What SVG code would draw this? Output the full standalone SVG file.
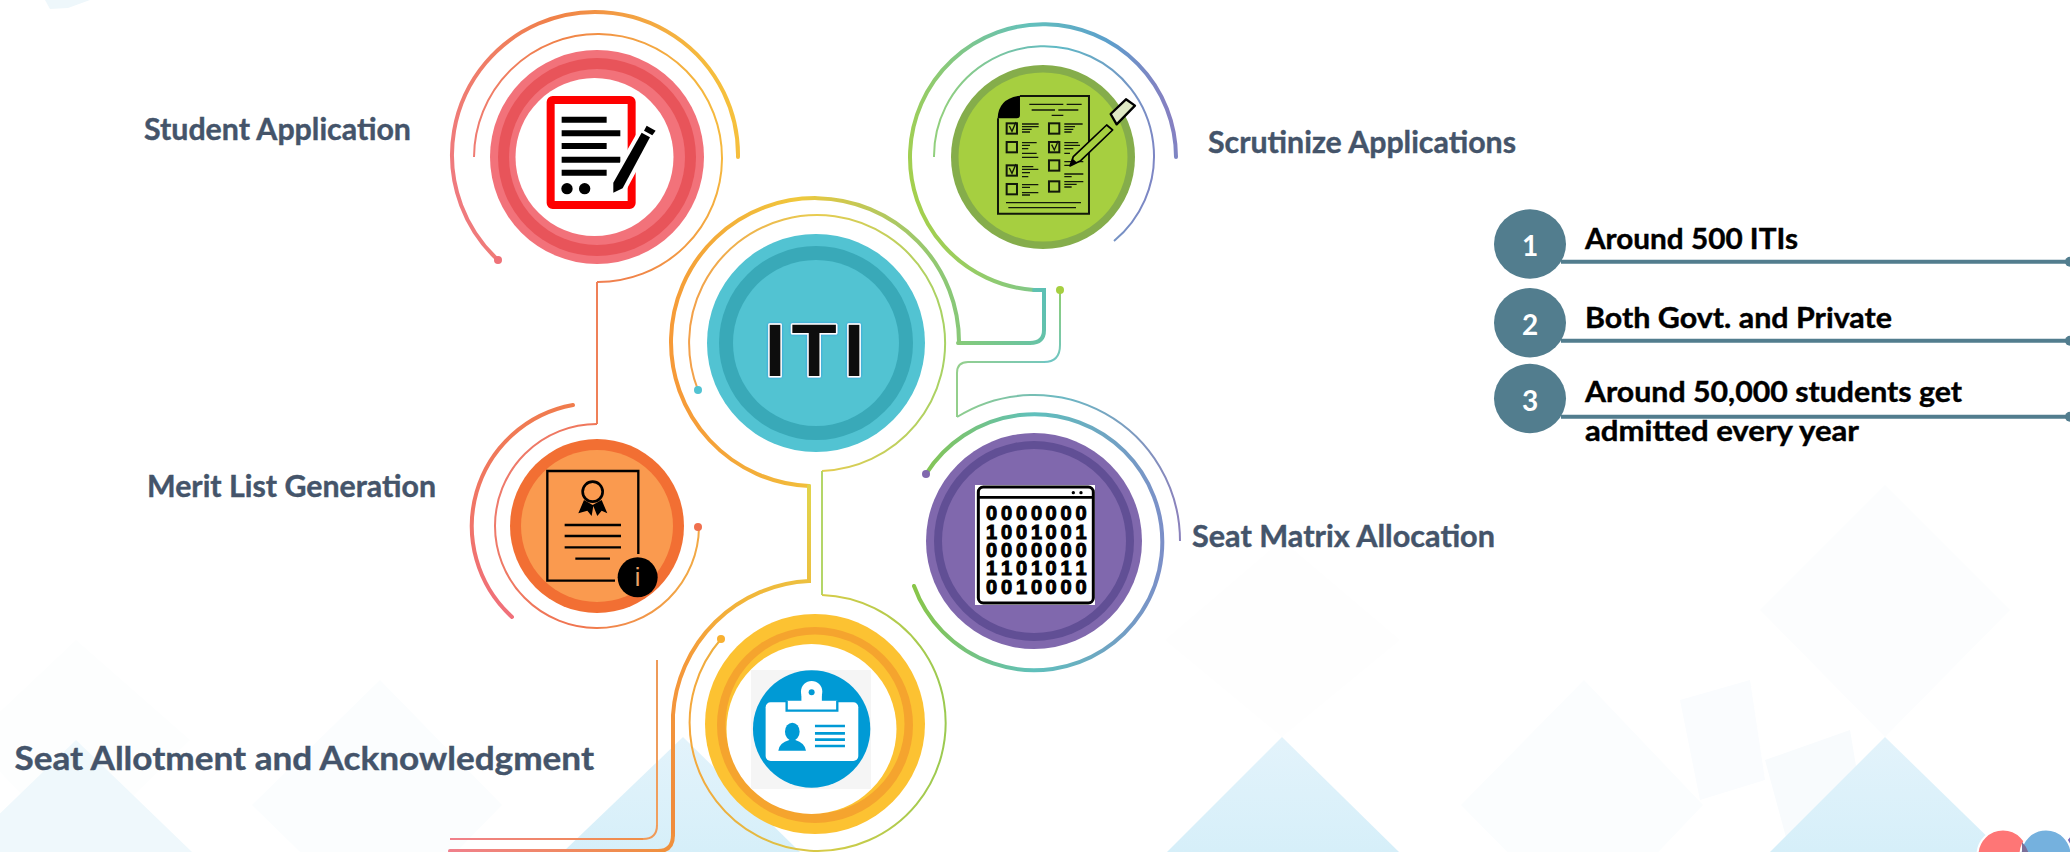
<svg xmlns="http://www.w3.org/2000/svg" width="2070" height="852" viewBox="0 0 2070 852">
<style>
.lbl{font-family:"Lato","Carlito","Open Sans",sans-serif;font-weight:700;fill:#44546a;stroke:#44546a;stroke-width:.4}
.blk{font-family:"Lato","Carlito","Open Sans",sans-serif;font-weight:700;fill:#000;stroke:#000;stroke-width:.4;font-size:29px}
.num{font-family:"Lato","Carlito","Open Sans",sans-serif;font-weight:700;fill:#fff;font-size:28px;text-anchor:middle}
.dig{font-family:"Liberation Sans",Arial,sans-serif;font-weight:700;font-size:60px;fill:#000;stroke:#000;stroke-width:3;text-anchor:middle}
.thin{fill:none;stroke-width:2}
.thick{fill:none;stroke-width:4;stroke-linecap:round}
.k{fill:none;stroke:#000}
.g{fill:none;stroke:#12180a;stroke-width:6}
.rule{stroke:#527d8e;stroke-width:4}
.badge{fill:#527d8e}
</style>
<defs>
<linearGradient id="bgTri" x1="0" y1="0" x2="0" y2="1"><stop offset="0" stop-color="#e3f3fb"/><stop offset="1" stop-color="#d6eff9"/></linearGradient>
<linearGradient id="redArc" gradientUnits="userSpaceOnUse" x1="453" y1="200" x2="738" y2="120"><stop offset="0" stop-color="#ef7a80"/><stop offset=".5" stop-color="#f08148"/><stop offset="1" stop-color="#f6c23c"/></linearGradient>
<linearGradient id="mrtOut" gradientUnits="userSpaceOnUse" x1="573" y1="405" x2="512" y2="617"><stop offset="0" stop-color="#f07c4c"/><stop offset="1" stop-color="#f0707a"/></linearGradient>
<linearGradient id="mrtIn" gradientUnits="userSpaceOnUse" x1="495" y1="500" x2="700" y2="560"><stop offset="0" stop-color="#ee7a6c"/><stop offset=".55" stop-color="#f0744e"/><stop offset="1" stop-color="#f2ac44"/></linearGradient>
<linearGradient id="grnOut" gradientUnits="userSpaceOnUse" x1="911" y1="200" x2="1176" y2="120"><stop offset="0" stop-color="#a6d04a"/><stop offset=".6" stop-color="#62c0bc"/><stop offset=".85" stop-color="#5c9fcc"/><stop offset="1" stop-color="#8a7cc0"/></linearGradient>
<linearGradient id="grnIn" gradientUnits="userSpaceOnUse" x1="933" y1="140" x2="1153" y2="170"><stop offset="0" stop-color="#93d07c"/><stop offset=".5" stop-color="#5fb9c6"/><stop offset="1" stop-color="#7d86c4"/></linearGradient>
<linearGradient id="grnBot" gradientUnits="userSpaceOnUse" x1="958" y1="343" x2="1044" y2="300"><stop offset="0" stop-color="#86cb78"/><stop offset="1" stop-color="#5dc0b4"/></linearGradient>
<linearGradient id="itiOut" gradientUnits="userSpaceOnUse" x1="671" y1="340" x2="960" y2="300"><stop offset="0" stop-color="#f69a38"/><stop offset=".5" stop-color="#f0c83c"/><stop offset="1" stop-color="#84c87a"/></linearGradient>
<linearGradient id="itiIn" gradientUnits="userSpaceOnUse" x1="688" y1="340" x2="944" y2="340"><stop offset="0" stop-color="#f3a04a"/><stop offset=".5" stop-color="#e8cc50"/><stop offset="1" stop-color="#a8d264"/></linearGradient>
<linearGradient id="yelOut" gradientUnits="userSpaceOnUse" x1="808" y1="500" x2="673" y2="800"><stop offset="0" stop-color="#e2d24a"/><stop offset=".35" stop-color="#f2b63a"/><stop offset=".6" stop-color="#f59a3a"/><stop offset="1" stop-color="#f08c3c"/></linearGradient>
<linearGradient id="yelIn" gradientUnits="userSpaceOnUse" x1="690" y1="700" x2="942" y2="700"><stop offset="0" stop-color="#f4a83c"/><stop offset=".55" stop-color="#d4cc48"/><stop offset="1" stop-color="#9cca50"/></linearGradient>
<linearGradient id="botH" gradientUnits="userSpaceOnUse" x1="450" y1="0" x2="660" y2="0"><stop offset="0" stop-color="#f0808c"/><stop offset="1" stop-color="#f09040"/></linearGradient>
<linearGradient id="botV" gradientUnits="userSpaceOnUse" x1="0" y1="660" x2="0" y2="840"><stop offset="0" stop-color="#ee9a58"/><stop offset="1" stop-color="#f0a060"/></linearGradient>
<linearGradient id="purIn" gradientUnits="userSpaceOnUse" x1="905" y1="540" x2="1163" y2="540"><stop offset="0" stop-color="#8cc640"/><stop offset=".5" stop-color="#5fc0bc"/><stop offset="1" stop-color="#7b8fc8"/></linearGradient>
<linearGradient id="purOut" gradientUnits="userSpaceOnUse" x1="957" y1="450" x2="1180" y2="500"><stop offset="0" stop-color="#8ccc90"/><stop offset=".4" stop-color="#6cb8c4"/><stop offset="1" stop-color="#8a82bc"/></linearGradient>
<linearGradient id="dropL" gradientUnits="userSpaceOnUse" x1="0" y1="290" x2="0" y2="362"><stop offset="0" stop-color="#8fce70"/><stop offset="1" stop-color="#70c6c4"/></linearGradient>
<linearGradient id="midH" gradientUnits="userSpaceOnUse" x1="957" y1="0" x2="1060" y2="0"><stop offset="0" stop-color="#94cf8c"/><stop offset="1" stop-color="#70c6c4"/></linearGradient>
<filter id="glow" x="-20%" y="-20%" width="140%" height="140%"><feDropShadow dx="0" dy="0" stdDeviation="1.2" flood-color="#2a8fe8"/></filter>
</defs>

<g id="background">
<rect width="2070" height="852" fill="#fff"/>
<polygon points="45,0 90,0 68,8 50,9" fill="#eef7fb"/>
<polygon points="1885,485 2010,610 1885,737 1760,610" fill="#fcfdfe"/>
<polygon points="1584,680 1703,805 1584,930 1461,805" fill="#fbfdfe"/>
<polygon points="1282,540 1400,640 1282,737 1165,640" fill="#fefefe"/>
<polygon points="380,680 502,805 380,930 252,805" fill="#fbfdfe"/>
<polygon points="76,640 190,740 76,852 -30,740" fill="#fdfefe"/>
<polygon points="1680,700 1750,680 1765,780 1700,800" fill="#fafcfe"/>
<polygon points="1765,760 1850,730 1870,850 1790,852" fill="#f8fbfd"/>
<polygon points="76,740 192,852 -40,852" fill="#eff8fc"/>
<polygon points="683,737 800,852 563,852" fill="url(#bgTri)"/>
<polygon points="1282,737 1399,852 1167,852" fill="url(#bgTri)"/>
<polygon points="1885,737 2003,852 1770,852" fill="url(#bgTri)"/>
</g>

<g id="connectors">
<path class="thick" stroke="url(#redArc)" d="M498 260A143 143 0 1 1 738 157"/>
<path class="thin" stroke="url(#redArc)" d="M474 157A124 124 0 1 1 597 282"/>
<path class="thin" stroke="#ef8058" d="M597 282V424"/>
<path class="thin" stroke="url(#mrtIn)" d="M597 424A102 102 0 1 0 699 527"/>
<path class="thick" stroke="url(#mrtOut)" d="M573 405A123 123 0 0 0 512 617"/>
<path class="thick" stroke="url(#grnOut)" stroke-linecap="round" d="M1176 157A133 133 0 1 0 1034 290"/>
<path class="thick" stroke="url(#grnBot)" stroke-linecap="butt" d="M1034 290H1044V330Q1044 343 1030 343H958"/>
<path class="thin" stroke="url(#grnIn)" d="M934 157A110 110 0 1 1 1114 241"/>
<path class="thick" stroke="url(#itiOut)" d="M809 486A144 144 0 1 1 959 343"/>
<path class="thick" stroke="url(#yelOut)" stroke-linecap="butt" d="M809 486V581A143 143 0 0 0 673 715V835"/>
<path class="thick" stroke="#f0903c" d="M673 835Q673 851 658 851"/>
<path class="thick" stroke="url(#botH)" d="M658 851H450"/>
<path class="thin" stroke="url(#itiIn)" d="M698 390A128 128 0 1 1 822 471"/>
<path class="thin" stroke="#b4d668" d="M822 471V595"/>
<path class="thin" stroke="url(#yelIn)" d="M822 595A128 128 0 1 1 721 639"/>
<path class="thin" stroke="url(#botV)" d="M657 660V825"/>
<path class="thin" stroke-width="2.5" stroke="#f09a58" d="M657 825Q657 839 643 839"/>
<path class="thin" stroke-width="2.5" stroke="url(#botH)" d="M643 839H450"/>
<path class="thin" stroke="url(#dropL)" d="M1060 290V345Q1060 362 1044 362"/>
<path class="thin" stroke="url(#midH)" d="M1044 362H968Q957 362 957 373V417"/>
<path class="thin" stroke="url(#purOut)" d="M957 417A146 146 0 0 1 1180 541"/>
<path class="thick" stroke="url(#purIn)" d="M926 474A128 128 0 1 1 914 586"/>
<circle cx="498" cy="260" r="4" fill="#ee7278"/>
<circle cx="698" cy="527" r="4" fill="#f0704e"/>
<circle cx="1060" cy="290" r="4" fill="#a6cf40"/>
<circle cx="698" cy="390" r="4" fill="#52c3d2"/>
<circle cx="721" cy="639" r="4" fill="#f8b030"/>
<circle cx="926" cy="474" r="4" fill="#8068ad"/>
</g>

<g id="node-student">
<circle cx="597" cy="157" r="107" fill="#f2727a"/><circle cx="597" cy="157" r="99" fill="#e8545a"/><circle cx="597" cy="157" r="88" fill="#f2727a"/><circle cx="594.5" cy="157" r="79" fill="#fff"/>
<g transform="translate(440 0) scale(.3333)">
<rect x="332" y="300" width="243" height="315" rx="6" fill="#fff" stroke="#fe0000" stroke-width="24"/>
<path stroke="#000" stroke-width="18" d="M365 359H500M365 400H541M365 438H500M365 479H541M365 518H500"/>
<circle cx="381" cy="566" r="17" fill="#000"/><circle cx="434" cy="566" r="17" fill="#000"/>
<polygon points="520,548 605,398 630,412 548,565 520,578" fill="#000" stroke="#fff" stroke-width="24" stroke-linejoin="round"/>
<polygon points="520,548 605,398 630,412 548,565 520,578" fill="#000"/>
<polygon points="620,377 647,392 637,406 612,392" fill="#000"/>
</g>
<text class="lbl" x="144" y="140" font-size="30" textLength="267" lengthAdjust="spacingAndGlyphs">Student Application</text>
</g>

<g id="node-scrutinize">
<circle cx="1043" cy="157" r="92" fill="#85ad4b"/><circle cx="1043" cy="157" r="84.5" fill="#a6cf40"/>
<g transform="translate(890 40) scale(.3333)">
<path class="g" d="M390 168H597V521H324V235"/>
<path fill="#000" d="M323 235Q325 175 390 167V225Q390 235 380 235Z"/>
<path class="g" stroke-width="4" style="stroke-width:4" d="M418 193H520M530 193H575M425 210H495M505 210H565M485 226H520M348 488H573M355 503H558"/>
<path class="g" style="stroke-width:4" d="M396 252H446M396 260H446M396 268H425M396 276H420M523 252H578M523 260H555M523 268H550M523 276H545M396 308H440M396 316H420M396 326H415M396 340H440M396 352H445M523 308H565M523 316H570M523 326H550M523 340H540M396 380H430M396 388H445M396 398H420M396 410H415M523 365H580M523 376H545M523 402H580M523 410H545M396 434H445M396 442H420M396 458H445M396 465H420M523 425H580M523 433H560M523 441H545"/>
<rect class="g" x="350" y="250" width="31" height="31"/><rect class="g" x="477" y="250" width="31" height="31"/>
<rect class="g" x="350" y="306" width="31" height="31"/><rect class="g" x="477" y="306" width="31" height="31"/>
<rect class="g" x="350" y="376" width="31" height="31"/><rect class="g" x="477" y="361" width="31" height="31"/>
<rect class="g" x="350" y="432" width="31" height="31"/><rect class="g" x="477" y="424" width="31" height="31"/>
<path class="g" style="stroke-width:4" d="M358 258L366 274L378 246M485 314L493 330L505 302M358 384L366 400L378 372"/>
<polygon points="540,378 550,350 650,255 668,270 572,362" fill="#a6cf40" stroke="#000" stroke-width="5" stroke-linejoin="round"/>
<polygon points="662,222 708,178 735,197 680,253" fill="#dfe9c4" stroke="#000" stroke-width="7" stroke-linejoin="round"/>
<polygon points="540,378 548,356 562,368" fill="#000"/>
</g>
<text class="lbl" x="1208" y="153" font-size="30" textLength="308" lengthAdjust="spacingAndGlyphs">Scrutinize Applications</text>
</g>

<g id="node-iti">
<circle cx="816" cy="343" r="109" fill="#52c3d2"/><circle cx="816" cy="343" r="97" fill="#39a9b8"/><circle cx="816" cy="343" r="83" fill="#52c3d2"/>
<text x="775 814 854" y="375.5" text-anchor="middle" font-family="Liberation Sans, Arial, sans-serif" font-weight="700" font-size="74" fill="#111" stroke="#fff" stroke-width="3" stroke-linejoin="round" paint-order="stroke" filter="url(#glow)">ITI</text>
</g>

<g id="node-merit">
<circle cx="597" cy="526" r="87" fill="#f26f33"/><circle cx="597" cy="526" r="76" fill="#fa9a4f"/>
<g transform="translate(460 390) scale(.3333)">
<path class="k" stroke-width="7" d="M535 492V243H262V572H465"/>
<circle class="k" cx="398" cy="305" r="30" stroke-width="8"/>
<polygon points="372,330 355,370 382,362 395,378 400,348 412,378 425,362 442,370 425,330 398,345" fill="#000"/>
<path class="k" stroke-width="7" d="M314 405H483M314 438H483M314 472H483M346 506H450"/>
<circle cx="533" cy="562" r="60" fill="#000"/>
<text x="533" y="588" text-anchor="middle" font-family="Liberation Sans, Arial, sans-serif" font-size="76" fill="#e8a468">i</text>
</g>
<text class="lbl" x="147" y="497" font-size="30" textLength="289" lengthAdjust="spacingAndGlyphs">Merit List Generation</text>
</g>

<g id="node-seat-matrix">
<circle cx="1034" cy="541" r="108" fill="#8068ad"/><circle cx="1034" cy="541" r="100" fill="#614f95"/><circle cx="1034" cy="541" r="92" fill="#8068ad"/>
<g transform="translate(900 380) scale(.3333)">
<rect x="225" y="315" width="360" height="360" fill="#fff"/>
<rect class="k" x="235" y="321" width="345" height="348" rx="15" stroke-width="9"/>
<path class="k" stroke-width="8" d="M235 352H580"/>
<circle cx="520" cy="338" r="5" fill="#000"/><circle cx="543" cy="338" r="5" fill="#000"/>
<text class="dig" x="275 320 365 410 453 498 543" y="421">0000000</text>
<text class="dig" x="275 320 365 410 453 498 543" y="476">1001001</text>
<text class="dig" x="275 320 365 410 453 498 543" y="531">0000000</text>
<text class="dig" x="275 320 365 410 453 498 543" y="586">1101011</text>
<text class="dig" x="275 320 365 410 453 498 543" y="641">0010000</text>
</g>
<text class="lbl" x="1192" y="547" font-size="30" textLength="303" lengthAdjust="spacingAndGlyphs">Seat Matrix Allocation</text>
</g>

<g id="node-seat-allotment">
<circle cx="815" cy="724" r="110" fill="#fcc232"/><circle cx="815" cy="725" r="98" fill="#f5a42e"/><circle cx="815" cy="724" r="89.5" fill="#fcc232"/><circle cx="811.5" cy="729" r="85" fill="#fff"/>
<g transform="translate(440 570) scale(.3333)">
<rect x="933" y="300" width="360" height="357" fill="#f5f5f5"/>
<circle cx="1115" cy="477" r="176" fill="#009ad5"/>
<rect x="977" y="397" width="278" height="176" rx="15" fill="#fff"/>
<circle cx="1115" cy="365" r="32" fill="#fff"/>
<rect x="1085" y="365" width="60" height="30" fill="#fff"/>
<path d="M1040 392V422H1192V392" fill="#fff" stroke="#009ad5" stroke-width="7"/>
<rect x="1085" y="375" width="60" height="30" fill="#fff"/>
<circle cx="1115" cy="367" r="9" fill="#009ad5"/>
<ellipse cx="1057" cy="485" rx="22" ry="27" fill="#009ad5"/>
<path d="M1015 542Q1018 518 1048 510H1066Q1094 518 1098 542Z" fill="#009ad5"/>
<path stroke="#009ad5" stroke-width="8" d="M1125 468H1215M1125 490H1215M1125 509H1215M1125 528H1215"/>
</g>
<text class="lbl" x="14.5" y="770" font-size="33" textLength="579.5" lengthAdjust="spacingAndGlyphs">Seat Allotment and Acknowledgment</text>
</g>

<g id="facts">
<path class="rule" d="M1561 261.7H2070M1561 340.7H2070M1561 416.7H2070"/>
<circle cx="2070" cy="261.7" r="5" fill="#527d8e"/><circle cx="2070" cy="340.7" r="5" fill="#527d8e"/><circle cx="2070" cy="416.7" r="5" fill="#527d8e"/>
<g id="fact-1"><ellipse class="badge" cx="1530" cy="244" rx="36" ry="34.7"/><text class="num" x="1530" y="256">1</text><text class="blk" x="1585" y="248.7" textLength="213" lengthAdjust="spacingAndGlyphs">Around 500 ITIs</text></g>
<g id="fact-2"><ellipse class="badge" cx="1530" cy="322.8" rx="36" ry="34.7"/><text class="num" x="1530" y="335">2</text><text class="blk" x="1585" y="327.7" textLength="307" lengthAdjust="spacingAndGlyphs">Both Govt. and Private</text></g>
<g id="fact-3"><ellipse class="badge" cx="1530" cy="398.5" rx="36" ry="34.7"/><text class="num" x="1530" y="411">3</text><text class="blk" x="1585" y="402.3" textLength="377" lengthAdjust="spacingAndGlyphs">Around 50,000 students get</text><text class="blk" x="1585" y="441.3" textLength="274" lengthAdjust="spacingAndGlyphs">admitted every year</text></g>
</g>

<g id="logo">
<circle cx="2003" cy="855" r="25.5" fill="#fe7676" stroke="#fff" stroke-width="2"/>
<circle cx="2087" cy="855" r="25.5" fill="#7c69b8" stroke="#fff" stroke-width="2"/>
<circle cx="2046" cy="855" r="25.5" fill="#75b1de" stroke="#fff" stroke-width="2"/>
<path d="M2022 842A25.5 25.5 0 0 1 2029 855V852H2022Z" fill="#7c6f99"/>
</g>
</svg>
